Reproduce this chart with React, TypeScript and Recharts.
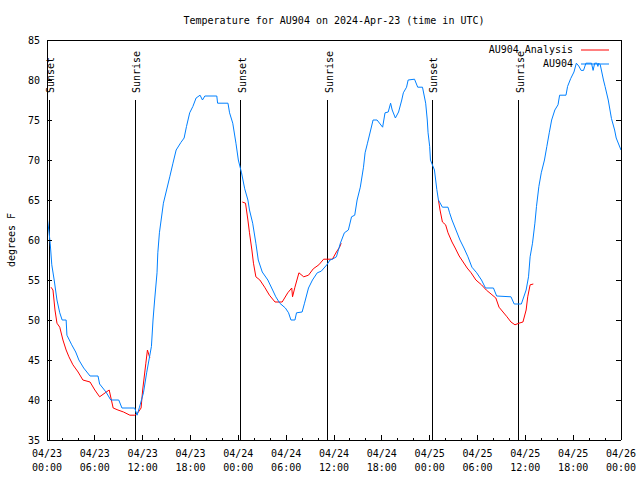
import React from 'react';
import { LineChart, Line, XAxis, YAxis, ReferenceLine, Legend } from 'recharts';

// hours since 2024-04-23 00:00 UTC
const obsHours = [
    0, 0.25, 0.4, 0.6, 0.9, 1.25, 1.6, 1.9, 2.4, 2.5, 3.1, 3.6, 4.0, 4.6, 5.4, 6.4, 6.6, 7.4, 8.0, 9.0,
    9.4, 11.0, 11.3, 11.6, 12.1, 12.5, 13.1, 13.3, 13.5, 13.8, 13.9, 14.1, 14.6, 15.0, 15.4, 15.8, 16.2,
    16.8, 17.2, 17.5, 17.9, 18.3, 18.7, 19.2, 19.5, 19.8, 21.3, 21.4, 22.7, 22.9, 23.3, 23.7, 24.0, 24.4,
    24.8, 25.2, 25.4, 25.8, 26.2, 26.5, 27.0, 27.7, 28.3, 28.7, 29.2, 29.9, 30.3, 30.6, 31.1, 31.3, 32.0,
    32.3, 32.8, 33.3, 33.9, 34.4, 35.1, 35.5, 35.8, 36.3, 36.8, 37.3, 37.8, 38.2, 38.6, 38.9, 39.3, 39.7,
    39.9, 40.2, 40.6, 40.9, 41.4, 42.1, 42.4, 42.8, 43.1, 43.3, 43.7, 44.1, 44.5, 44.7, 45.1, 45.3, 46.1,
    46.5, 47.1, 47.5, 47.7, 47.8, 48.0, 48.1, 48.6, 48.9, 49.1, 49.6, 50.3, 50.5, 50.8, 51.3, 51.8, 52.3,
    52.8, 53.3, 53.9, 54.5, 55.0, 56.0, 56.4, 58.2, 58.6, 59.5, 60.1, 60.4, 60.6, 60.9, 61.2, 61.4, 61.7,
    62.0, 62.4, 62.7, 63.0, 63.3, 63.7, 64.1, 64.3, 65.1, 65.3, 65.7, 66.1, 66.4, 66.7, 67.0, 67.3, 67.6,
    68.3, 68.5, 68.7, 69.0, 69.1, 69.2, 69.4, 69.8, 70.0, 70.4, 70.8, 71.2, 71.4, 72.0,
];
const obsTemps = [
    63.1, 61, 59.6, 56.9, 55, 52.5, 50.9, 50, 50, 48.1, 46.9, 46, 45, 44, 43, 43, 42, 41, 40, 40,
    39, 39, 38.1, 39.1, 40.9, 43.4, 46.7, 50, 52.5, 55.9, 58.4, 60.9, 64.6, 66.25, 67.9, 69.6, 71.25,
    72.2, 72.75, 74.2, 75.9, 76.7, 77.75, 78.1, 77.5, 78, 78, 77.1, 77.1, 75.9, 74.6, 72.1, 70, 68.4,
    66.4, 65, 63.75, 62.1, 59.6, 57.5, 56, 55, 53.75, 52.9, 52.1, 51.5, 50.9, 50, 50, 50.9, 51,
    52.1, 54, 55, 55.9, 56.1, 56.9, 57.5, 57.6, 57.9, 59.6, 60.9, 61.25, 62.9, 63.1, 65, 66.6, 69.1,
    70.9, 72.1, 73.75, 75, 75, 74.1, 75.9, 76, 77.1, 76.25, 75.25, 76, 77.5, 78.4, 79.1, 80, 80.1,
    79.1, 79.1, 77.1, 75, 73.4, 71.7, 70, 68.75, 66.3, 65, 64.1, 64.1, 63.4, 62.5, 61.25, 60, 59,
    57.9, 56.6, 55.9, 55, 54, 54, 53, 52.9, 52, 52, 53.75, 55.4, 57.9, 59.6, 62.1, 64.2, 66.7,
    68.4, 70, 71.7, 73.4, 75, 76.25, 76.9, 78.1, 78.1, 79.2, 80.2, 81, 82.1, 81.75, 81.2, 81.2, 82.1,
    82.1, 81.2, 82.1, 82.1, 81.7, 82.1, 81.9, 80, 79.2, 77.5, 75.2, 73.75, 72.75, 71.25,
];

// analysis runs, null = gap between runs
const anaHours = [
    0.5, 0.75, 1.0, 1.25, 1.6, 2.0, 2.4, 2.75, 3.25, 3.9, 4.5, 5.4, 6.0, 6.6, 7.3, 7.8, 8.3, 8.9, 9.6,
    10.4, 11.0, 11.4, 11.8, 12.0, 12.4, 12.6, 12.9, 13.0,
    24.5, 24.9, 25.2, 25.4, 25.7, 25.9, 26.2, 26.7, 27.3, 27.9, 28.6, 29.5, 30.2, 30.7, 30.8, 31.1, 31.6,
    32.2, 32.8, 33.4, 34.1, 34.7, 35.8, 36.3, 36.7, 36.9, 37.0,
    49.1, 49.3, 49.6, 50.0, 50.3, 50.8, 51.2, 51.7, 52.2, 52.7, 53.2, 53.8, 54.5, 55.1, 55.7, 56.3, 56.7,
    57.2, 57.7, 58.2, 58.7, 59.2, 59.7, 60.1, 60.3, 60.6, 61.0,
];
const anaTemps = [
    54.1, 53.75, 51.25, 49.6, 49.1, 47.5, 46.25, 45.4, 44.4, 43.5, 42.5, 42.25, 41.25, 40.4, 40.9, 41.25, 39, 38.75, 38.5,
    38.1, 38.1, 38.4, 39, 41.25, 44.6, 46.25, 45.25, null,
    64.75, 64.6, 62.5, 60.9, 58.75, 57.1, 55.4, 55, 54.1, 53.1, 52.25, 52.25, 53.4, 54, 52.9, 54.1, 55.9,
    55.4, 55.6, 56.4, 56.9, 57.6, 57.6, 58.5, 59.1, 59.6, null,
    65, 63.75, 62.25, 61.9, 60.9, 59.75, 59, 58, 57.25, 56.5, 55.9, 55, 54.4, 53.75, 53.25, 52.75, 51.6,
    51, 50.4, 49.75, 49.4, 49.6, 49.75, 51.25, 52.9, 54.4, 54.5,
];

const sunHours = [0.3, 11.1, 24.3, 35.2, 48.35, 59.15];
const sunLabels = ['Sunset', 'Sunrise', 'Sunset', 'Sunrise', 'Sunset', 'Sunrise'];

const xTicks = Array.from({ length: 37 }, (_, i) => i * 2);
const xDays = ['04/23', '04/23', '04/23', '04/23', '04/24', '04/24', '04/24', '04/24', '04/25', '04/25', '04/25', '04/25', '04/26'];
const xTimes = ['00:00', '06:00', '12:00', '18:00', '00:00', '06:00', '12:00', '18:00', '00:00', '06:00', '12:00', '18:00', '00:00'];
const yTicks = [35, 40, 45, 50, 55, 60, 65, 70, 75, 80, 85];

const obsData = obsHours.map((h, i) => ({ h, t: obsTemps[i] }));
const anaData = anaHours.map((h, i) => ({ h, t: anaTemps[i] }));

const FONT = '"DejaVu Sans Mono", monospace';
const RED = '#ff0000';
const BLUE = '#0080ff';
const AXIS_LINE = { stroke: '#000', shapeRendering: 'crispEdges' };

const BottomTick = (props: any) => {
    const { x, y, payload } = props;
    const v = payload.value;
    const major = v % 6 === 0;
    const k = v / 6;
    return (
        <g>
            <line x1={x} x2={x} y1={y} y2={y - (major ? 5 : 2.5)} stroke="#000" shapeRendering="crispEdges" />
            {major && (
                <text x={x} y={y} textAnchor="middle" fontFamily={FONT} fontSize={10} fill="#000">
                    <tspan x={x} dy={17}>{xDays[k]}</tspan>
                    <tspan x={x} dy={14}>{xTimes[k]}</tspan>
                </text>
            )}
        </g>
    );
};

const TopTick = (props: any) => {
    const { x, y, payload } = props;
    const major = payload.value % 6 === 0;
    return <line x1={x} x2={x} y1={y} y2={y + (major ? 5 : 2.5)} stroke="#000" shapeRendering="crispEdges" />;
};

const LeftTick = (props: any) => {
    const { x, y, payload } = props;
    return (
        <g>
            <line x1={x} x2={x + 5} y1={y} y2={y} stroke="#000" shapeRendering="crispEdges" />
            <text x={x - 7} y={y + 3.5} textAnchor="end" fontFamily={FONT} fontSize={10} fill="#000">
                {payload.value}
            </text>
        </g>
    );
};

const RightTick = (props: any) => {
    const { x, y } = props;
    return <line x1={x} x2={x - 5} y1={y} y2={y} stroke="#000" shapeRendering="crispEdges" />;
};

const sunLabel = (text: string) => (props: any) => {
    const { x, y } = props.viewBox;
    return (
        <text
            transform={`translate(${x + 5},${y - 7}) rotate(-90)`}
            fontFamily={FONT}
            fontSize={10}
            fill="#000"
            textAnchor="start"
        >
            {text}
        </text>
    );
};

const yTitle = (props: any) => {
    const { y, height } = props.viewBox;
    return (
        <text
            transform={`translate(15,${y + height / 2}) rotate(-90)`}
            fontFamily={FONT}
            fontSize={10}
            fill="#000"
            textAnchor="middle"
        >
            degrees F
        </text>
    );
};

const LegendBox = () => (
    <div style={{ fontFamily: FONT, fontSize: 10, lineHeight: '14px', color: '#000' }}>
        {[
            { name: 'AU904 Analysis', color: RED },
            { name: 'AU904', color: BLUE },
        ].map((item) => (
            <div key={item.name} style={{ display: 'flex', alignItems: 'center', justifyContent: 'flex-end' }}>
                <span>{item.name}</span>
                <svg width={40} height={14}>
                    <line x1={8} x2={36} y1={7} y2={7} stroke={item.color} strokeWidth={1} />
                </svg>
            </div>
        ))}
    </div>
);

export default function App() {
    return (
        <div style={{ position: 'absolute', left: 0, top: 0, width: 640, height: 480, background: '#fff' }}>
            <div
                style={{
                    position: 'absolute',
                    left: 47,
                    width: 574,
                    top: 14,
                    textAlign: 'center',
                    fontFamily: FONT,
                    fontSize: 10,
                    lineHeight: '14px',
                    zIndex: 2,
                }}
            >
                Temperature for AU904 on 2024-Apr-23 (time in UTC)
            </div>
            <LineChart width={640} height={480} margin={{ top: 0, right: 0, bottom: 0, left: 0 }}>
                <XAxis
                    dataKey="h"
                    type="number"
                    domain={[0, 72]}
                    ticks={xTicks}
                    interval={0}
                    height={40}
                    tickSize={0}
                    tickMargin={0}
                    tickLine={false}
                    tick={BottomTick}
                    axisLine={AXIS_LINE}
                    allowDataOverflow
                />
                <XAxis
                    xAxisId="top"
                    orientation="top"
                    type="number"
                    domain={[0, 72]}
                    ticks={xTicks}
                    interval={0}
                    height={40}
                    tickSize={0}
                    tickMargin={0}
                    tickLine={false}
                    tick={TopTick}
                    axisLine={AXIS_LINE}
                    allowDataOverflow
                />
                <YAxis
                    type="number"
                    domain={[35, 85]}
                    ticks={yTicks}
                    interval={0}
                    width={47}
                    tickSize={0}
                    tickMargin={0}
                    tickLine={false}
                    tick={LeftTick}
                    axisLine={AXIS_LINE}
                    label={yTitle}
                    allowDataOverflow
                />
                <YAxis
                    yAxisId="right"
                    orientation="right"
                    type="number"
                    domain={[35, 85]}
                    ticks={yTicks}
                    interval={0}
                    width={19}
                    tickSize={0}
                    tickMargin={0}
                    tickLine={false}
                    tick={RightTick}
                    axisLine={AXIS_LINE}
                    allowDataOverflow
                />
                {sunHours.map((h, i) => (
                    <ReferenceLine
                        key={i}
                        segment={[{ x: h, y: 77.5 }, { x: h, y: 35 }]}
                        stroke="#000"
                        strokeWidth={1}
                        shapeRendering="crispEdges"
                        label={sunLabel(sunLabels[i])}
                    />
                ))}
                <Line
                    data={anaData}
                    dataKey="t"
                    type="linear"
                    stroke={RED}
                    strokeWidth={1}
                    dot={false}
                    connectNulls={false}
                    isAnimationActive={false}
                />
                <Line
                    data={obsData}
                    dataKey="t"
                    type="linear"
                    stroke={BLUE}
                    strokeWidth={1}
                    dot={false}
                    isAnimationActive={false}
                />
                <Legend
                    layout="horizontal"
                    verticalAlign="middle"
                    align="center"
                    content={LegendBox}
                    wrapperStyle={{ position: 'absolute', left: 433, top: 43, width: 180, height: 28 }}
                />
            </LineChart>
        </div>
    );
}
